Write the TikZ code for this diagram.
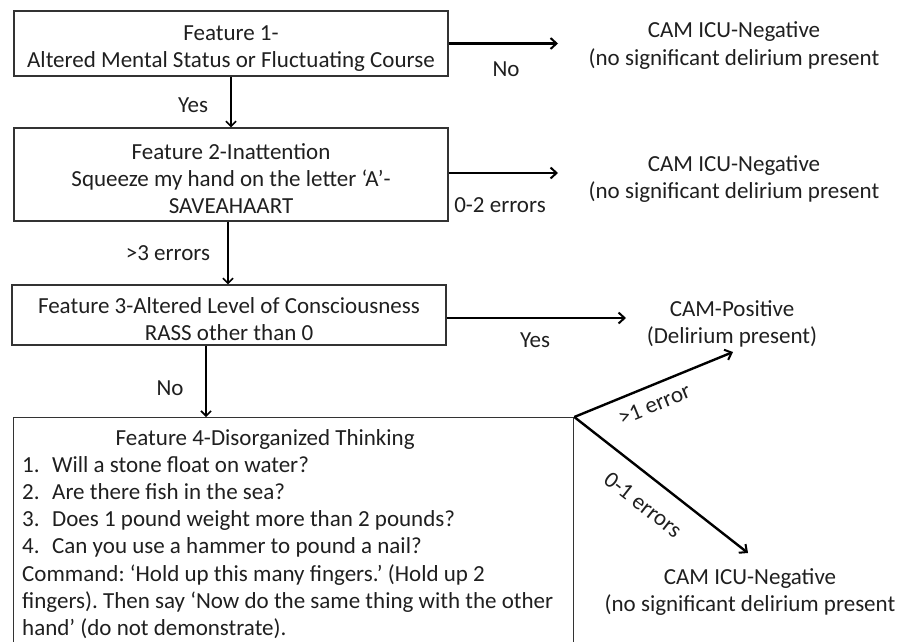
\documentclass[tikz,border=0pt]{standalone}
\usepackage{fontspec}
\setmainfont{Carlito}
\usetikzlibrary{arrows.meta}
\newcommand\myfs{\fontsize{23}{27.2}\selectfont\frenchspacing}
\begin{document}
\begin{tikzpicture}[x=1pt,y=-1pt,
  box/.style={draw=black!80, line width=1.3pt, rectangle, inner sep=0pt},
  btext/.style={align=center, font=\myfs, inner sep=0pt, text=black!88},
  res/.style={align=center, font=\myfs, inner sep=2pt, text=black!88},
  lab/.style={font=\myfs, inner sep=2pt, text=black!88},
  arr/.style={line width=2.4pt, -{Straight Barb[length=6pt,width=11pt,line width=2pt]}},
  varr/.style={line width=1.8pt, -{Straight Barb[length=5pt,width=10pt,line width=1.6pt]}},
]
\useasboundingbox (0,0) rectangle (909,641);
\clip (0,0) rectangle (909,641);

% boxes
\node[box, minimum width=434pt, minimum height=65pt] (b1) at (231,43.5) {};
\node[btext] (t1) at ([yshift=-5pt]b1.center)
  {Feature 1-\\Altered Mental Status or Fluctuating Course};
\node[box, minimum width=434pt, minimum height=93pt] (b2) at (231,174.5) {};
\node[btext] (t2) at ([yshift=-4pt]b2.center)
  {Feature 2-Inattention\\Squeeze my hand on the letter ‘A’-\\SAVEAHAART};
\node[box, minimum width=434pt, minimum height=60pt] (b3) at (229,315) {};
\node[btext] (t3) at ([yshift=-4pt]b3.center)
  {Feature 3-Altered Level of Consciousness\\RASS other than 0};
\node[box, anchor=north west, minimum width=560pt, minimum height=260pt] (f4) at (13,417) {};
\node[anchor=north west, inner sep=0pt, align=left, font=\myfs, text=black!88] (f4t) at (22,429)
  {\makebox[486pt][c]{Feature 4-Disorganized Thinking}\\
   \makebox[30pt][l]{1.}Will a stone float on water?\\
   \makebox[30pt][l]{2.}Are there fish in the sea?\\
   \makebox[30pt][l]{3.}Does 1 pound weight more than 2 pounds?\\
   \makebox[30pt][l]{4.}Can you use a hammer to pound a nail?\\
   Command: ‘Hold up this many fingers.’ (Hold up 2\\
   fingers). Then say ‘Now do the same thing with the other\\
   hand’ (do not demonstrate).};

% results
\node[res] (n1) at (734,45.5) {CAM ICU-Negative\\(no significant delirium present};
\node[res] (n2) at (734,179) {CAM ICU-Negative\\(no significant delirium present};
\node[res] (pos) at (732,324) {CAM-Positive\\(Delirium present)};
\node[res] (n3) at (750,592) {CAM ICU-Negative\\(no significant delirium present};

% arrow end points
\coordinate (e1) at (558,43.5);
\coordinate (e2) at (558,173);
\coordinate (e3) at (626,318);
\coordinate (e4) at (733,352);
\coordinate (e5) at (748,553);

% right arrows
\draw[arr] (b1.east) -- (e1);
\draw[arr] (b2.east |- e2) -- (e2);
\draw[arr] (b3.east |- e3) -- (e3);

% vertical arrows
\draw[varr] (b1.south) -- (b2.north);
\draw[varr] ([xshift=-3pt]b2.south) -- ([xshift=-3pt]b2.south |- b3.north);
\draw[varr] ([xshift=-23pt]b3.south) -- ([xshift=-23pt]b3.south |- f4.north);

% diagonal arrows
\draw[arr] (f4.north east) -- node[lab, sloped, below=8pt, pos=0.46] {>1 error} (e4);
\draw[arr] (f4.north east) -- node[lab, sloped, below=16pt, pos=0.49] {0-1 errors} (e5);

% labels
\node[lab] (l1) at (506,69) {No};
\node[lab] (l2) at (500,205) {0-2 errors};
\node[lab] (l3) at (193,105) {Yes};
\node[lab] (l4) at (168,253) {>3 errors};
\node[lab] (l5) at (535,340) {Yes};
\node[lab] (l6) at (170,388) {No};
\end{tikzpicture}
\end{document}
